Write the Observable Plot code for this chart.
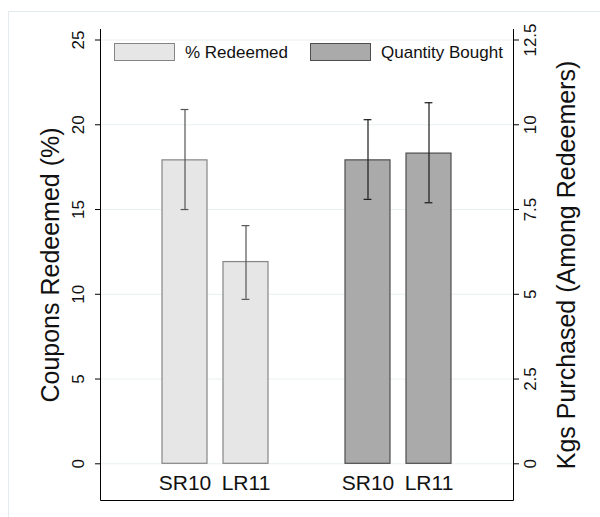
<!DOCTYPE html>
<html>
<head>
<meta charset="utf-8">
<script src="https://cdn.jsdelivr.net/npm/d3@7"></script>
<script src="https://cdn.jsdelivr.net/npm/@observablehq/plot@0.6"></script>
<style>
  html, body { margin: 0; padding: 0; background: #fff; }
  #chart { width: 600px; height: 517px; }
</style>
</head>
<body>
<div id="chart"></div>
<script>
// ---- Data ----
const groups = ["% Redeemed", "Quantity Bought"];
const rounds = ["SR10", "LR11"];
// Coupons redeemed (%), left axis
const pctMean = [17.9, 11.9];
const pctLo   = [15.0, 9.7];
const pctHi   = [20.9, 14.05];
// Kgs purchased among redeemers, right axis
const kgMean = [8.95, 9.15];
const kgLo   = [7.8, 7.7];
const kgHi   = [10.15, 10.65];
// Axis ticks
const leftTicks  = [0, 5, 10, 15, 20, 25];
const rightTicks = [0, 2.5, 5, 7.5, 10, 12.5];
const leftTitle  = "Coupons Redeemed (%)";
const rightTitle = "Kgs Purchased (Among Redeemers)";

// Right axis 0–12.5 shares the left axis 0–25 positions (factor 2)
const ratio = 25 / 12.5;

const rows = [];
rounds.forEach((r, i) => rows.push({key: "pct-" + r, label: r, group: groups[0], value: pctMean[i], lo: pctLo[i], hi: pctHi[i]}));
rounds.forEach((r, i) => rows.push({key: "kg-" + r, label: r, group: groups[1], value: kgMean[i] * ratio, lo: kgLo[i] * ratio, hi: kgHi[i] * ratio}));
const xDomain = ["pct-SR10", "pct-LR11", "gap", "kg-SR10", "kg-LR11"];

const lightRows = rows.filter(d => d.group === groups[0]);
const darkRows  = rows.filter(d => d.group === groups[1]);

const font = "'Liberation Sans', Arial, Helvetica, sans-serif";
const gridColor = "#e8f0f2";
const lightFill = "#e6e6e6", lightStroke = "#858585";
const darkFill = "#aaaaaa", darkStroke = "#4d4d4d";

// Frame lines (left, bottom, right; no top) and the outer graph border
function frameLines(index, scales, values, dim) {
  const g = d3.create("svg:g");
  const x0 = dim.marginLeft, x1 = dim.width - dim.marginRight;
  const y0 = dim.marginTop, y1 = dim.height - dim.marginBottom;
  g.append("path")
    .attr("d", `M8.5,${dim.height}V11.5H${dim.width}`)
    .attr("fill", "none").attr("stroke", "#e3ebee").attr("stroke-width", 1);
  g.append("path")
    .attr("d", `M${x0 + 0.5},${y0}V${y1 + 0.5}H${x1 + 0.5}V${y0}`)
    .attr("fill", "none").attr("stroke", "#000").attr("stroke-width", 1);
  return g.node();
}

// Legend drawn inside the plot area, top
function legend(index, scales, values, dim) {
  const g = d3.create("svg:g").attr("font-family", font).attr("font-size", 17).attr("text-anchor", "start");
  const items = [
    {label: groups[0], fill: lightFill, stroke: lightStroke, x: dim.marginLeft + 14},
    {label: groups[1], fill: darkFill, stroke: darkStroke, x: dim.marginLeft + 210}
  ];
  const top = dim.marginTop + 14;
  for (const it of items) {
    g.append("rect")
      .attr("x", it.x + 0.5).attr("y", top + 0.5)
      .attr("width", 60).attr("height", 17)
      .attr("fill", it.fill).attr("stroke", it.stroke);
    g.append("text")
      .attr("x", it.x + 71).attr("y", top + 9)
      .attr("dy", "0.36em")
      .attr("text-anchor", "start")
      .attr("fill", "#111")
      .text(it.label);
  }
  return g.node();
}

const chart = Plot.plot({
  width: 600,
  height: 517,
  marginLeft: 100,
  marginRight: 87,
  marginTop: 29,
  marginBottom: 17,
  style: {fontFamily: font, background: "#fff", overflow: "visible"},
  x: {type: "band", domain: xDomain, paddingInner: 0.262, paddingOuter: 1, axis: null},
  y: {domain: [-2.165, 25.62], axis: null},
  marks: [
    // gridlines
    Plot.ruleY(leftTicks, {stroke: gridColor, strokeWidth: 1}),
    // bars
    Plot.barY(lightRows, {x: "key", y: "value", fill: lightFill, stroke: lightStroke, strokeWidth: 1.2}),
    Plot.barY(darkRows,  {x: "key", y: "value", fill: darkFill, stroke: darkStroke, strokeWidth: 1.2}),
    // error bars
    Plot.ruleX(lightRows, {x: "key", y1: "lo", y2: "hi", stroke: "#555", strokeWidth: 1.2}),
    Plot.tickY(lightRows, {x: "key", y: "hi", stroke: "#555", strokeWidth: 1.2, insetLeft: 18.6, insetRight: 18.6}),
    Plot.tickY(lightRows, {x: "key", y: "lo", stroke: "#555", strokeWidth: 1.2, insetLeft: 18.6, insetRight: 18.6}),
    Plot.ruleX(darkRows, {x: "key", y1: "lo", y2: "hi", stroke: "#1a1a1a", strokeWidth: 1.2}),
    Plot.tickY(darkRows, {x: "key", y: "hi", stroke: "#1a1a1a", strokeWidth: 1.2, insetLeft: 18.6, insetRight: 18.6}),
    Plot.tickY(darkRows, {x: "key", y: "lo", stroke: "#1a1a1a", strokeWidth: 1.2, insetLeft: 18.6, insetRight: 18.6}),
    // category labels inside the frame
    Plot.text(rows, {x: "key", text: "label", frameAnchor: "bottom", dy: -17.5, lineAnchor: "middle", fontSize: 21, fill: "#111"}),
    // axis ticks
    Plot.axisY({anchor: "left", ticks: leftTicks, tickSize: 5, tickFormat: () => "", stroke: "#000"}),
    Plot.axisY({anchor: "right", ticks: rightTicks.map(v => v * ratio), tickSize: 5, tickFormat: () => "", stroke: "#000"}),
    // rotated tick labels
    Plot.text(leftTicks, {y: d => d, text: d => String(d), frameAnchor: "left", dx: -22, rotate: -90, textAnchor: "middle", lineAnchor: "middle", fontSize: 17, fill: "#111"}),
    Plot.text(rightTicks, {y: d => d * ratio, text: d => String(d), frameAnchor: "right", dx: 17, rotate: -90, textAnchor: "middle", lineAnchor: "middle", fontSize: 17, fill: "#111"}),
    // axis titles
    Plot.text([leftTitle], {text: d => d, frameAnchor: "left", dx: -50, rotate: -90, textAnchor: "middle", lineAnchor: "middle", fontSize: 25, fill: "#111"}),
    Plot.text([rightTitle], {text: d => d, frameAnchor: "right", dx: 53, rotate: -90, textAnchor: "middle", lineAnchor: "middle", fontSize: 25, fill: "#111"}),
    frameLines,
    legend
  ]
});
document.getElementById("chart").append(chart);
</script>
</body>
</html>
